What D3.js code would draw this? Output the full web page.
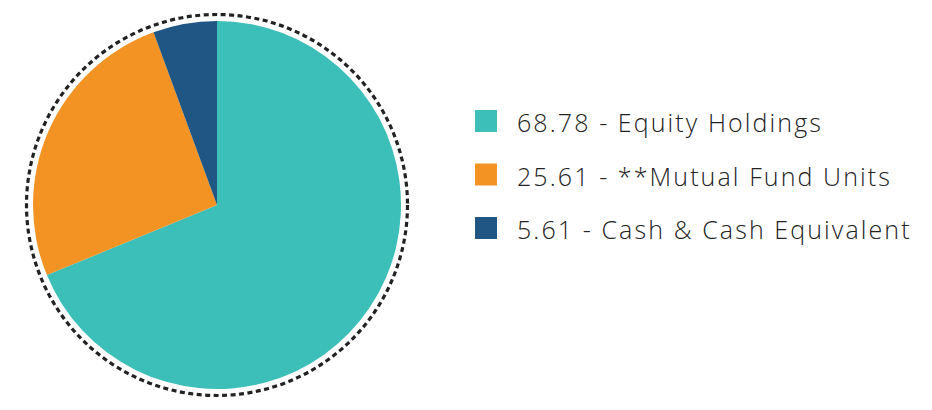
<!DOCTYPE html>
<html>
<head>
<meta charset="utf-8">
<script src="https://cdn.jsdelivr.net/npm/d3@7"></script>
<style>
  body { margin: 0; background: #fff; }
</style>
</head>
<body>
<div id="pie"></div>
<script>
// data
var categories = ["Equity Holdings", "**Mutual Fund Units", "Cash & Cash Equivalent"];
var values = [68.78, 25.61, 5.61];
var colors = ["#3bbfb8", "#f29324", "#1f5683"];

var width = 932, height = 410;
var cx = 217, cy = 205;
var radius = 184;

var svg = d3.select("#pie")
  .append("svg")
    .attr("width", width)
    .attr("height", height);

var g = svg.append("g")
  .attr("transform", "translate(" + cx + "," + cy + ")");

var color = d3.scaleOrdinal()
  .domain(categories)
  .range(colors);

// slices go clockwise from 12 o'clock, no sorting
var pie = d3.pie()
  .sort(null)
  .value(function(d) { return d.value; });

var data_ready = pie(categories.map(function(c, i) { return {key: c, value: values[i]}; }));

var arcGenerator = d3.arc()
  .innerRadius(0)
  .outerRadius(radius);

g.selectAll("path.slice")
  .data(data_ready)
  .enter()
  .append("path")
    .attr("class", "slice")
    .attr("d", arcGenerator)
    .attr("fill", function(d) { return color(d.data.key); });

// dotted ring round the pie
g.append("circle")
  .attr("r", radius + 6.5)
  .attr("fill", "none")
  .attr("stroke", "#222")
  .attr("stroke-width", 3.2)
  .attr("stroke-dasharray", "5,3.5");

// legend
var legend = svg.append("g")
  .attr("transform", "translate(475,110)");

var rows = legend.selectAll("g.row")
  .data(data_ready)
  .enter()
  .append("g")
    .attr("class", "row")
    .attr("transform", function(d, i) { return "translate(0," + (i * 53.5) + ")"; });

rows.append("rect")
  .attr("width", 22)
  .attr("height", 22)
  .attr("fill", function(d) { return color(d.data.key); });

rows.append("text")
  .attr("x", 42)
  .attr("y", 22)
  .style("font-family", "'Open Sans', sans-serif")
  .style("font-weight", 300)
  .style("font-size", "25px")
  .style("letter-spacing", "2.1px")
  .style("fill", "#222")
  .text(function(d) { return d.data.value.toFixed(2) + " - " + d.data.key; });
</script>
</body>
</html>
